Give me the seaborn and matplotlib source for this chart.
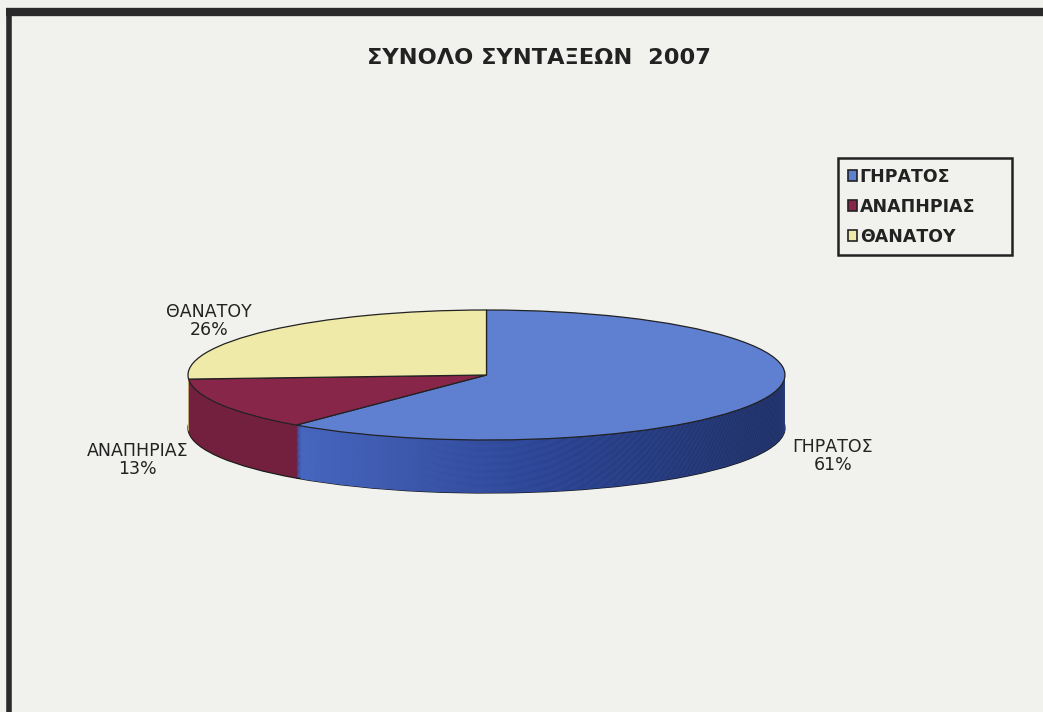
import seaborn as sns
import matplotlib.pyplot as plt
from matplotlib.lines import Line2D
from matplotlib.patches import Patch
import numpy as np

# data
categories = ["ΓΗΡΑΤΟΣ", "ΑΝΑΠΗΡΙΑΣ", "ΘΑΝΑΤΟΥ"]
shares = [61, 13, 26]
title = "ΣΥΝΟΛΟ ΣΥΝΤΑΞΕΩΝ  2007"

top_colors = ["#5f7fd1", "#88264a", "#efeaa8"]
side_colors = ["#3f5db3", "#72203d", "#d9d28c"]

sns.set_theme(style="white")
plt.rcParams["font.family"] = ["DejaVu Sans"]

W, H = 1043, 712
bg = "#f1f1ed"
fig = plt.figure(figsize=(W / 100, H / 100), dpi=100, facecolor=bg)

# pie axes: x -1..1 spans the ellipse, y units are 65 px
depth = 53 / 65
ax = fig.add_axes([188 / W, (337 - 65 - 53) / H, 597 / W, (130 + 53) / H])
ax.set_facecolor("none")

grad = sns.blend_palette(["#4a69c2", "#2a4290", "#1b2957"], as_cmap=True)
gx = np.linspace(0, 1, 256).reshape(1, -1)

# side of the 3d pie: stacked copies of the pie
n_layers = 60
for i, d in enumerate(np.linspace(depth, 0.02, n_layers)):
    z = 1 + i * 0.01
    wedges, _ = ax.pie(shares, colors=side_colors, startangle=90, counterclock=False,
                       center=(0, -d), radius=1, frame=True,
                       wedgeprops=dict(linewidth=0.9 if i == 0 else 0,
                                       edgecolor="#1a1a1a", zorder=z))
    for w in wedges:
        w.set_zorder(z)
    im = ax.imshow(gx, cmap=grad, extent=(-0.62, 1.0, -1 - depth, 0.2),
                   aspect="auto", zorder=z + 0.001)
    im.set_clip_path(wedges[0])

# top surface
top, _ = ax.pie(shares, colors=top_colors, startangle=90, counterclock=False,
                center=(0, 0), radius=1, frame=True,
                wedgeprops=dict(linewidth=0.9, edgecolor="#222222", zorder=5))
for w in top:
    w.set_zorder(5)

ax.set_xlim(-1, 1)
ax.set_ylim(-1 - depth, 1)
ax.set_aspect("auto")
ax.axis("off")

# slice labels
label_pos = [(1.16, -1.25), (-1.17, -1.31), (-0.93, 0.83)]
for name, val, (lx, ly) in zip(categories, shares, label_pos):
    ax.text(lx, ly, f"{name}\n{val}%", ha="center", va="center", fontsize=12.5,
            color="#222222", linespacing=1.0, zorder=10, clip_on=False)

# legend
handles = [Patch(facecolor=c, edgecolor="#222222", linewidth=1.2) for c in top_colors]
leg = fig.legend(handles, categories, loc="upper left", mode="expand",
                 bbox_to_anchor=(838 / W, 1 - 257 / H, 174 / W, 99 / H), frameon=True,
                 fancybox=False, edgecolor="#222222", facecolor=bg, framealpha=1,
                 prop=dict(weight="bold", size=12.5), handlelength=0.55,
                 handleheight=0.55, handletextpad=0.15, labelspacing=0.7,
                 borderpad=0.55, borderaxespad=0)
leg.get_frame().set_linewidth(1.8)
for t in leg.get_texts():
    t.set_color("#222222")

# title
fig.text(539 / W, 1 - 58 / H, title, ha="center", va="center",
         fontsize=16.2, fontweight="bold", color="#222222")

# scanned frame
fig.add_artist(Line2D([6 / W, 1], [1 - 12 / H, 1 - 12 / H], transform=fig.transFigure,
                      color="#2a2a2a", linewidth=6, solid_capstyle="butt"))
fig.add_artist(Line2D([9 / W, 9 / W], [0, 1 - 8 / H], transform=fig.transFigure,
                      color="#2a2a2a", linewidth=4, solid_capstyle="butt"))

fig.savefig("out.png", dpi=100, facecolor=bg)
